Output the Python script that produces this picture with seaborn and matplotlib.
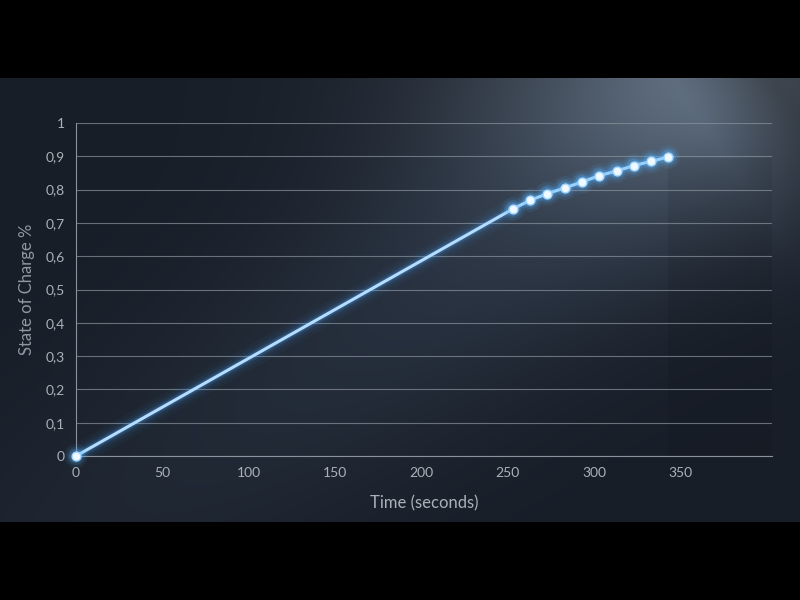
import numpy as np
import pandas as pd
import matplotlib
matplotlib.use("Agg")
import matplotlib.pyplot as plt
import seaborn as sns
from matplotlib.ticker import FuncFormatter

# ================== Data ==================
time_s = [0, 253, 263, 273, 283, 293, 303, 313, 323, 333, 343]
soc = [0.0, 0.742, 0.768, 0.788, 0.805, 0.823, 0.842, 0.856, 0.872, 0.885, 0.898]
x_ticks = [0, 50, 100, 150, 200, 250, 300, 350]
y_ticks = [0, 0.1, 0.2, 0.3, 0.4, 0.5, 0.6, 0.7, 0.8, 0.9, 1.0]

df = pd.DataFrame({"time": time_s, "soc": soc})

sns.set_theme(style="dark")
plt.rcParams['font.family'] = ['Lato', 'DejaVu Sans']

fig = plt.figure(figsize=(8, 6), dpi=100)
fig.patch.set_facecolor("black")

# ================== Background (lighting) ==================
bg = fig.add_axes([0, 78 / 600, 1, 444 / 600])
bg.set_axis_off()
h, w = 444, 800
yy, xx = np.mgrid[0:h, 0:w].astype(float)
# spot in the top right corner
spot = np.exp(-((xx - 700) / 260) ** 2 - ((yy + 10) / 140) ** 2)
# diagonal beam from the top right towards the lower left
dx, dy = -0.815, 0.58
px, py = xx - 720, yy
along = px * dx + py * dy
perp = np.abs(px * dy - py * dx)
beam = np.exp(-(perp / 140) ** 2) * np.exp(-np.clip(along, 0, None) / 480) * np.clip((along + 40) / 80, 0, 1)
# darker strip right of the last point (inside the plot)
shade = np.ones_like(xx)
mask = (xx > 667) & (xx < 772) & (yy > 79) & (yy < 378)
shade[mask] = 0.92
base = np.array([0x18, 0x1e, 0x28]) / 255
spot_c = np.array([0x5a, 0x63, 0x6c]) / 255
beam_c = np.array([0x45, 0x55, 0x6b]) / 255
img = (base[None, None, :]
       + (spot_c - base)[None, None, :] * (0.62 * spot)[:, :, None]
       + (beam_c - base)[None, None, :] * (0.75 * beam)[:, :, None])
img = img * shade[:, :, None]
bg.imshow(np.clip(img, 0, 1), aspect="auto", extent=[0, 1, 0, 1], interpolation="bicubic")

# ================== Chart ==================
ax = fig.add_axes([76 / 800, 144 / 600, 696 / 800, 333 / 600])
ax.set_facecolor("none")

# glow layers
for lw, a in [(16, 0.04), (11, 0.06), (7, 0.10), (4.5, 0.20)]:
    sns.lineplot(data=df, x="time", y="soc", ax=ax, color="#4aa6ff", linewidth=lw,
                 alpha=a, legend=False, zorder=3)
sns.lineplot(data=df, x="time", y="soc", ax=ax, color="#b4ddff", linewidth=2.2, zorder=4)

for ms, a in [(17, 0.08), (13, 0.14), (10, 0.25)]:
    sns.scatterplot(data=df, x="time", y="soc", ax=ax, color="#5ab8ff", s=ms ** 2,
                    alpha=a, edgecolor="none", legend=False, zorder=5, clip_on=False)
sns.scatterplot(data=df, x="time", y="soc", ax=ax, color="#f0f9ff", s=40,
                edgecolor="#a8d8ff", linewidth=1.0, legend=False, zorder=6, clip_on=False)

ax.set_xlim(0, 403)
ax.set_ylim(0, 1.0)
ax.set_xticks(x_ticks)
ax.set_yticks(y_ticks)
ax.yaxis.set_major_formatter(FuncFormatter(lambda v, p: "{:g}".format(round(v, 1)).replace(".", ",")))

ax.grid(axis="y", color="#8a939c", linewidth=0.8, alpha=0.7)
ax.grid(axis="x", visible=False)
for s in ["top", "right"]:
    ax.spines[s].set_visible(False)
for s in ["left", "bottom"]:
    ax.spines[s].set_visible(True)
    ax.spines[s].set_color("#8a939c")
    ax.spines[s].set_linewidth(0.8)

ax.tick_params(axis="both", colors="#aab1b8", labelsize=10, length=0, pad=8)
ax.set_xlabel("Time (seconds)", color="#aab1b8", fontsize=12, labelpad=12)
ax.set_ylabel("State of Charge %", color="#8f97a0", fontsize=12, labelpad=8)

fig.savefig("out.png", dpi=100, facecolor=fig.get_facecolor())
